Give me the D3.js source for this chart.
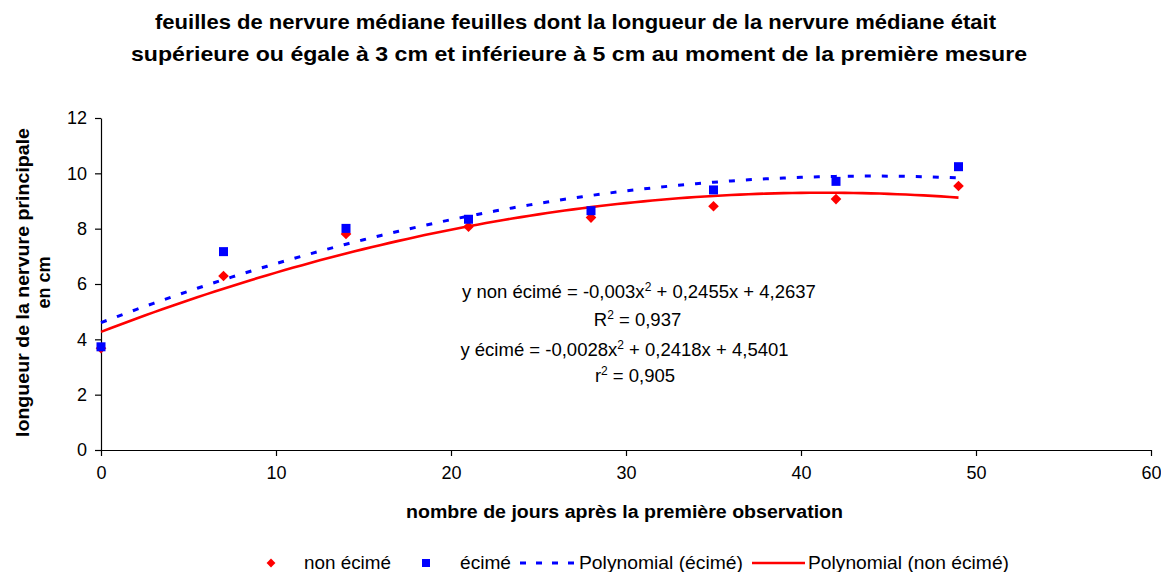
<!DOCTYPE html>
<html>
<head>
<meta charset="utf-8">
<script src="https://cdn.jsdelivr.net/npm/d3@7"></script>
<style>
  html, body { margin: 0; padding: 0; background: #fff; }
  svg { display: block; font-family: "Liberation Sans", Arial, sans-serif; }
</style>
</head>
<body>
<svg id="chart" width="1161" height="572"></svg>
<script>
// Days after the first observation
const days = [0, 7, 14, 21, 28, 35, 42, 49];
// Midrib length (cm), non-topped plants
const nonEcime = [3.68, 6.29, 7.81, 8.07, 8.40, 8.81, 9.07, 9.54];
// Midrib length (cm), topped plants
const ecime = [3.73, 7.17, 8.01, 8.34, 8.65, 9.40, 9.71, 10.24];
const xTicks = [0, 10, 20, 30, 40, 50, 60];
const yTicks = [0, 2, 4, 6, 8, 10, 12];
const titleLines = [
  "feuilles de nervure médiane feuilles dont la longueur de la nervure médiane était",
  "supérieure ou égale à 3 cm et inférieure à 5 cm au moment de la première mesure"
];
const yLabelLines = ["longueur de la nervure principale", "en cm"];
const xLabel = "nombre de jours après la première observation";

const svg = d3.select("#chart");
const x = d3.scaleLinear().domain([0, 60]).range([101, 1151]);
const y = d3.scaleLinear().domain([0, 12]).range([450, 118]);

// Title
const titleLayout = [{ cx: 575.5, by: 29, w: 841 }, { cx: 579, by: 61, w: 896 }];
svg.append("g").selectAll("text").data(titleLines).join("text")
  .attr("x", (d, i) => titleLayout[i].cx)
  .attr("y", (d, i) => titleLayout[i].by)
  .attr("text-anchor", "middle")
  .attr("font-weight", "bold")
  .attr("font-size", 20.5)
  .attr("textLength", (d, i) => titleLayout[i].w)
  .attr("lengthAdjust", "spacingAndGlyphs")
  .text(d => d);

// Axes
const xAxis = svg.append("g").attr("transform", `translate(0,${y(0)})`)
  .call(d3.axisBottom(x).tickValues(xTicks).tickSize(6).tickSizeOuter(0).tickPadding(10));
const yAxis = svg.append("g").attr("transform", `translate(${x(0)},0)`)
  .call(d3.axisLeft(y).tickValues(yTicks).tickSize(6).tickSizeOuter(0).tickPadding(8));
[xAxis, yAxis].forEach(g => {
  g.selectAll("path, line").attr("stroke", "#000").attr("stroke-width", 1.2);
  g.selectAll("text").attr("font-size", 18).attr("fill", "#000")
    .attr("font-family", "'Liberation Sans', Arial, sans-serif");
});

// Axis titles
svg.append("text")
  .attr("x", 624.5).attr("y", 518)
  .attr("text-anchor", "middle").attr("font-weight", "bold").attr("font-size", 17.5)
  .attr("textLength", 437).attr("lengthAdjust", "spacingAndGlyphs")
  .text(xLabel);
svg.append("g").attr("transform", "translate(0,282.5) rotate(-90)")
  .selectAll("text").data(yLabelLines).join("text")
  .attr("x", 0).attr("y", (d, i) => 29 + i * 21)
  .attr("text-anchor", "middle").attr("font-weight", "bold").attr("font-size", 18)
  .attr("textLength", (d, i) => i === 0 ? 309 : null)
  .attr("lengthAdjust", "spacingAndGlyphs")
  .text(d => d);

// Least-squares quadratic trendline y = a x^2 + b x + c
function quadFit(xs, ys) {
  const S = k => d3.sum(xs, v => Math.pow(v, k));
  const T = k => d3.sum(xs, (v, i) => Math.pow(v, k) * ys[i]);
  const M = [[S(4), S(3), S(2), T(2)], [S(3), S(2), S(1), T(1)], [S(2), S(1), xs.length, T(0)]];
  for (let i = 0; i < 3; i++) {
    for (let j = i + 1; j < 3; j++) {
      const f = M[j][i] / M[i][i];
      for (let k = i; k < 4; k++) M[j][k] -= f * M[i][k];
    }
  }
  const r = [0, 0, 0];
  for (let i = 2; i >= 0; i--) {
    let s = M[i][3];
    for (let k = i + 1; k < 3; k++) s -= M[i][k] * r[k];
    r[i] = s / M[i][i];
  }
  return v => r[0] * v * v + r[1] * v + r[2];
}
const span = d3.range(0, 49.01, 0.5);
const line = f => d3.line().x(d => x(d)).y(d => y(f(d)))(span);

svg.append("path").attr("d", line(quadFit(days, nonEcime)))
  .attr("fill", "none").attr("stroke", "#ff0000").attr("stroke-width", 2.6);
svg.append("path").attr("d", line(quadFit(days, ecime)))
  .attr("fill", "none").attr("stroke", "#0000ff").attr("stroke-width", 3)
  .attr("stroke-dasharray", "6,11");

// Markers
const diamond = d3.symbol().type(d3.symbolDiamond2).size(72)();
svg.append("g").selectAll("path").data(days).join("path")
  .attr("d", diamond)
  .attr("transform", (d, i) => `translate(${x(d)},${y(nonEcime[i])})`)
  .attr("fill", "#ff0000");
svg.append("g").selectAll("rect").data(days).join("rect")
  .attr("x", d => x(d) - 4.5)
  .attr("y", (d, i) => y(ecime[i]) - 4.5)
  .attr("width", 9).attr("height", 9)
  .attr("fill", "#0000ff");

// Equation annotations
const eq = svg.append("g").attr("font-size", 18.5).attr("fill", "#000").attr("text-anchor", "middle");
function sup(t, pre, exp, post) {
  t.append("tspan").text(pre);
  t.append("tspan").attr("dy", -7).attr("font-size", 12).text(exp);
  t.append("tspan").attr("dy", 7).text(post);
}
sup(eq.append("text").attr("x", 639).attr("y", 298), "y non écimé = -0,003x", "2", " + 0,2455x + 4,2637");
sup(eq.append("text").attr("x", 637.5).attr("y", 326), "R", "2", " = 0,937");
sup(eq.append("text").attr("x", 624.5).attr("y", 356), "y écimé = -0,0028x", "2", " + 0,2418x + 4,5401");
sup(eq.append("text").attr("x", 635).attr("y", 382), "r", "2", " = 0,905");

// Legend
const lg = svg.append("g").attr("font-size", 17.5);
const ly = 563;
function legendText(xPos, w, label) {
  lg.append("text").attr("x", xPos).attr("y", ly + 6)
    .attr("textLength", w).attr("lengthAdjust", "spacingAndGlyphs").text(label);
}
lg.append("path").attr("d", d3.symbol().type(d3.symbolDiamond2).size(50)())
  .attr("transform", `translate(271,${ly})`).attr("fill", "#ff0000");
legendText(304, 87, "non écimé");
lg.append("rect").attr("x", 422).attr("y", ly - 4).attr("width", 8).attr("height", 8).attr("fill", "#0000ff");
legendText(460, 51, "écimé");
lg.append("line").attr("x1", 520).attr("x2", 576).attr("y1", ly).attr("y2", ly)
  .attr("stroke", "#0000ff").attr("stroke-width", 3).attr("stroke-dasharray", "6,10");
legendText(579, 164, "Polynomial (écimé)");
lg.append("line").attr("x1", 752).attr("x2", 805).attr("y1", ly).attr("y2", ly)
  .attr("stroke", "#ff0000").attr("stroke-width", 2.6);
legendText(808, 201, "Polynomial (non écimé)");
</script>
</body>
</html>
